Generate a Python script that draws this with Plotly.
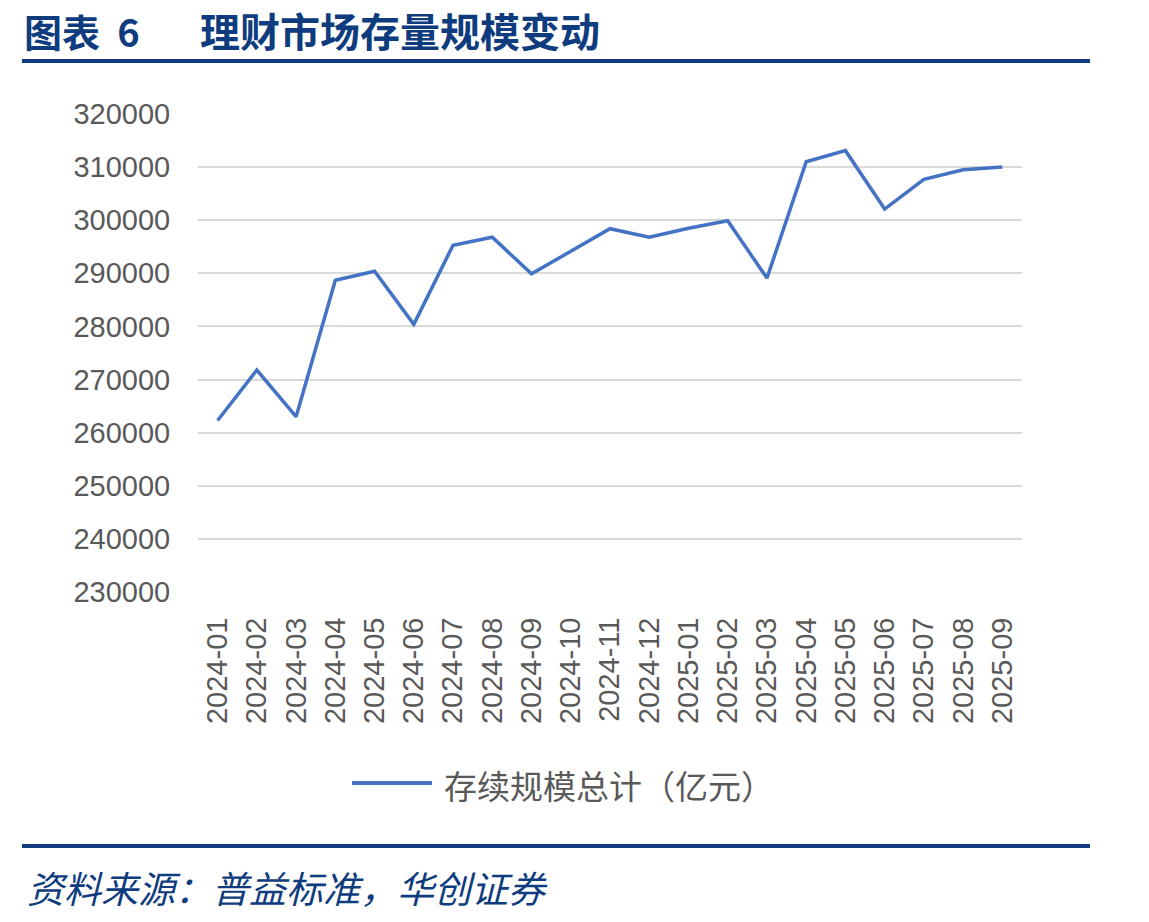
import plotly.graph_objects as go

months = ["2024-01", "2024-02", "2024-03", "2024-04", "2024-05", "2024-06", "2024-07",
          "2024-08", "2024-09", "2024-10", "2024-11", "2024-12", "2025-01", "2025-02",
          "2025-03", "2025-04", "2025-05", "2025-06", "2025-07", "2025-08", "2025-09"]
total_scale = [262300, 271800, 263000, 288700, 290400, 280400, 295300,
               296800, 289900, 294100, 298400, 296800, 298500, 299900,
               289100, 311000, 313100, 302100, 307700, 309500, 310000]
y_ticks = [230000, 240000, 250000, 260000, 270000, 280000, 290000, 300000, 310000, 320000]
series_name = "存续规模总计（亿元）"
title_num = "图表  6"
title_text = "理财市场存量规模变动"
source_text = "资料来源：普益标准，华创证券"

W_PX, H_PX = 1149, 922
L, R, T, B = 198, 1022, 114, 592
PW, PH = R - L, B - T


def px(x):
    return (x - L) / PW


def py(y):
    return (B - y) / PH


DARK_BLUE = "#0E3C7E"
GRAY = "#595959"
LINE_BLUE = "#4472C4"

fig = go.Figure()
fig.add_trace(go.Scatter(
    x=months, y=total_scale, mode="lines", name=series_name,
    line=dict(color=LINE_BLUE, width=3.5), showlegend=False,
))

fig.update_layout(
    width=W_PX, height=H_PX,
    margin=dict(l=L, r=W_PX - R, t=T, b=H_PX - B, pad=0),
    paper_bgcolor="white", plot_bgcolor="white",
    xaxis=dict(
        type="category", range=[-0.5, len(months) - 0.5],
        showgrid=False, zeroline=False, showline=False,
        tickangle=-90, ticks="outside", ticklen=13, tickcolor="rgba(0,0,0,0)",
        tickfont=dict(family="Liberation Sans, Arial", size=29, color=GRAY),
    ),
    yaxis=dict(
        range=[230000, 320000], tickvals=y_ticks,
        ticktext=[str(v) for v in y_ticks],
        showgrid=True, gridcolor="#D9D9D9", gridwidth=2,
        zeroline=False, showline=False,
        ticks="outside", ticklen=21, tickcolor="rgba(0,0,0,0)",
        tickfont=dict(family="Liberation Sans, Arial", size=29, color=GRAY),
    ),
)

shapes = [
    dict(type="line", xref="paper", yref="paper", x0=px(22), x1=px(1090), y0=py(61), y1=py(61),
         line=dict(color=DARK_BLUE, width=4)),
    dict(type="line", xref="paper", yref="paper", x0=px(22), x1=px(1090), y0=py(846), y1=py(846),
         line=dict(color=DARK_BLUE, width=4)),
    dict(type="line", xref="paper", yref="paper", x0=px(352), x1=px(432), y0=py(783), y1=py(783),
         line=dict(color=LINE_BLUE, width=4)),
]
fig.update_layout(shapes=shapes)

ann = [
    dict(text=title_num, x=px(22), y=py(30), xref="paper", yref="paper", xanchor="left", yanchor="middle",
         showarrow=False, font=dict(family="Noto Sans CJK SC", size=38, color=DARK_BLUE, weight="bold")),
    dict(text=title_text, x=px(198), y=py(30), xref="paper", yref="paper", xanchor="left", yanchor="middle",
         showarrow=False, font=dict(family="Noto Sans CJK SC", size=40, color=DARK_BLUE, weight="bold")),
    dict(text=series_name, x=px(442), y=py(785), xref="paper", yref="paper", xanchor="left", yanchor="middle",
         showarrow=False, font=dict(family="Noto Sans CJK SC", size=33, color=GRAY)),
    dict(text=source_text, x=px(25), y=py(887), xref="paper", yref="paper", xanchor="left", yanchor="middle",
         showarrow=False, font=dict(family="Noto Sans CJK SC", size=37, color=DARK_BLUE, style="italic")),
]
fig.update_layout(annotations=ann)

fig.write_html("out.html")
